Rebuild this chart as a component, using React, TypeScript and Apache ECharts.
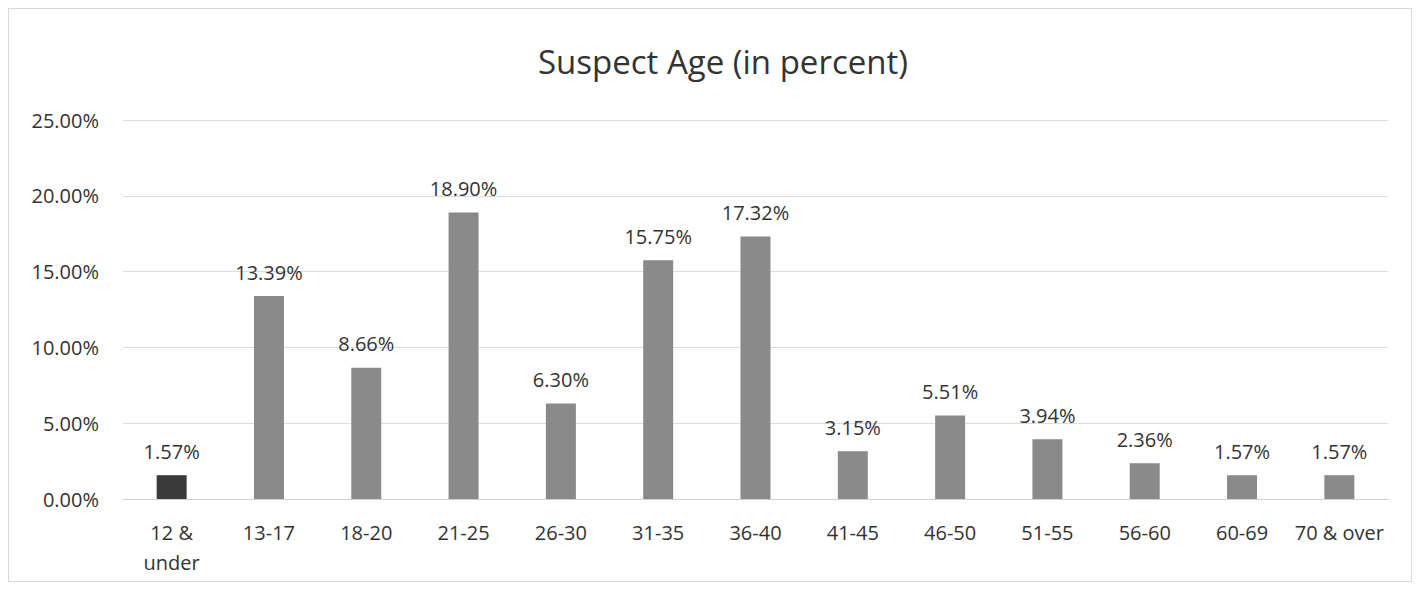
import React, { useEffect, useRef } from "react";
import * as echarts from "echarts";

const categories = ["12 &\nunder", "13-17", "18-20", "21-25", "26-30", "31-35", "36-40", "41-45", "46-50", "51-55", "56-60", "60-69", "70 & over"];
const values = [1.57, 13.39, 8.66, 18.9, 6.3, 15.75, 17.32, 3.15, 5.51, 3.94, 2.36, 1.57, 1.57];
const barColors = ["#3a3a3a", "#8a8a8a", "#8a8a8a", "#8a8a8a", "#8a8a8a", "#8a8a8a", "#8a8a8a", "#8a8a8a", "#8a8a8a", "#8a8a8a", "#8a8a8a", "#8a8a8a", "#8a8a8a"];
const titleText = "Suspect Age (in percent)";

export default function App() {
  const ref = useRef<HTMLDivElement>(null);
  useEffect(() => {
    if (!ref.current) return;
    const chart = echarts.init(ref.current, null, { renderer: "svg" });
    const font = "'Open Sans', 'Noto Sans', sans-serif";
    chart.setOption({
      animation: false,
      textStyle: { fontFamily: font },
      title: {
        text: titleText,
        left: 524,
        top: 31,
        textStyle: { fontFamily: font, fontSize: 33, fontWeight: "normal", color: "#333333" },
      },
      grid: { left: 114, right: 23, top: 111, bottom: 82 },
      xAxis: {
        type: "category",
        data: categories,
        axisTick: { show: false },
        axisLine: { lineStyle: { color: "#d0d0d0" } },
        axisLabel: { color: "#333333", fontSize: 20, margin: 18, lineHeight: 30, interval: 0 },
      },
      yAxis: {
        type: "value",
        min: 0,
        max: 25,
        interval: 5,
        axisLabel: {
          color: "#333333",
          fontSize: 20,
          margin: 24,
          formatter: (v: number) => v.toFixed(2) + "%",
        },
        splitLine: { lineStyle: { color: "#dcdcdc" } },
        axisLine: { show: false },
        axisTick: { show: false },
      },
      series: [
        {
          type: "bar",
          barWidth: 30,
          data: values.map((v, i) => ({ value: v, itemStyle: { color: barColors[i] } })),
          label: {
            show: true,
            position: "top",
            distance: 14,
            color: "#333333",
            fontSize: 20,
            fontFamily: font,
            formatter: (p: any) => Number(p.value).toFixed(2) + "%",
          },
        },
      ],
    });
    return () => chart.dispose();
  }, []);
  return (
    <div
      ref={ref}
      style={{ width: 1404, height: 574, boxSizing: "border-box", border: "1px solid #d8d8d8" }}
    />
  );
}
